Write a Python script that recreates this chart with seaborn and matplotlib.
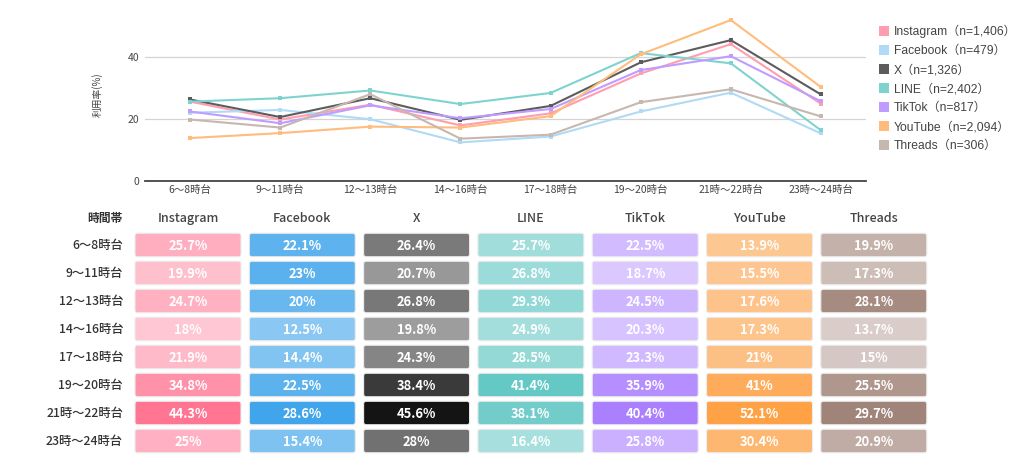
import numpy as np
import pandas as pd
import matplotlib
matplotlib.use("Agg")
import matplotlib.pyplot as plt
import seaborn as sns
from matplotlib.patches import FancyBboxPatch
from matplotlib.lines import Line2D
from matplotlib.colors import to_rgb

# ---------------- data ----------------
time_slots = ["6〜8時台", "9〜11時台", "12〜13時台", "14〜16時台",
              "17〜18時台", "19〜20時台", "21時〜22時台", "23時〜24時台"]
platforms = ["Instagram", "Facebook", "X", "LINE", "TikTok", "YouTube", "Threads"]
sample_sizes = ["1,406", "479", "1,326", "2,402", "817", "2,094", "306"]

instagram = [25.7, 19.9, 24.7, 18.0, 21.9, 34.8, 44.3, 25.0]
facebook = [22.1, 23.0, 20.0, 12.5, 14.4, 22.5, 28.6, 15.4]
x_twitter = [26.4, 20.7, 26.8, 19.8, 24.3, 38.4, 45.6, 28.0]
line_app = [25.7, 26.8, 29.3, 24.9, 28.5, 41.4, 38.1, 16.4]
tiktok = [22.5, 18.7, 24.5, 20.3, 23.3, 35.9, 40.4, 25.8]
youtube = [13.9, 15.5, 17.6, 17.3, 21.0, 41.0, 52.1, 30.4]
threads = [19.9, 17.3, 28.1, 13.7, 15.0, 25.5, 29.7, 20.9]

series = [instagram, facebook, x_twitter, line_app, tiktok, youtube, threads]

# ---------------- styles ----------------
line_colors = ["#ff9db1", "#b0daf5", "#5c5c5c", "#7fd3cf", "#bf9cff", "#ffbc7c", "#c6b7af"]
cell_light = ["#ffc6d3", "#8ac8f3", "#9d9d9d", "#a6dfdd", "#dbc8ff", "#fdc792", "#dacdc9"]
cell_dark = ["#ff7592", "#40a5ea", "#141414", "#64c8c5", "#ab80ff", "#ffa145", "#a08479"]
# lower bound of the colour scale per column (None = column minimum)
cell_vmin = [None, None, None, 24.0, None, None, None]

JP = ["Noto Sans CJK JP", "DejaVu Sans"]
LEG = ["Liberation Sans", "Noto Sans CJK JP", "DejaVu Sans"]

sns.set_theme(style="white")
plt.rcParams["font.family"] = JP

W, H = 1024, 461
fig = plt.figure(figsize=(W / 100, H / 100), dpi=100)

# ---------------- line chart ----------------
ax_l, ax_r, ax_t, ax_b = 145, 866, 8, 181
ax = fig.add_axes([ax_l / W, 1 - ax_b / H, (ax_r - ax_l) / W, (ax_b - ax_t) / H])

rows = []
for p, vals in zip(platforms, series):
    for i, v in enumerate(vals):
        rows.append({"platform": p, "slot": i, "value": v})
df = pd.DataFrame(rows)

sns.lineplot(data=df, x="slot", y="value", hue="platform", hue_order=platforms,
             palette=line_colors, marker="s", markersize=3.3, markeredgewidth=0,
             linewidth=1.5, legend=False, ax=ax)

ax.set_xlim(-0.5, len(time_slots) - 0.5)
ax.set_ylim(0, 56)
ax.set_yticks([0, 20, 40])
ax.set_xticks(range(len(time_slots)))
ax.set_xticklabels(time_slots, fontsize=7.5, color="#444444", family=JP)
ax.tick_params(axis="y", labelsize=7.5, colors="#444444", pad=4, length=0)
ax.tick_params(axis="x", pad=3, length=0)
ax.grid(axis="y", color="#d4d4d4", linewidth=0.9)
ax.grid(axis="x", visible=False)
for s in ["top", "right", "left"]:
    ax.spines[s].set_visible(False)
ax.spines["bottom"].set_color("#444444")
ax.spines["bottom"].set_linewidth(1.3)
ax.set_xlabel("")
ax.set_ylabel("利用率(%)", fontsize=7, color="#444444", labelpad=18, family=JP)

handles = [Line2D([0], [0], marker="s", linestyle="none", markersize=7,
                  markerfacecolor=c, markeredgewidth=0) for c in line_colors]
labels = [f"{p}（n={n}）" for p, n in zip(platforms, sample_sizes)]
leg = fig.legend(handles, labels, loc="upper left",
                 bbox_to_anchor=(872 / W, 1 - 20 / H), frameon=False,
                 prop={"family": LEG, "size": 8.7}, labelspacing=0.58,
                 handletextpad=0.2, handlelength=1.2, borderaxespad=0)
for t in leg.get_texts():
    t.set_color("#444444")

# ---------------- table ----------------
tab = fig.add_axes([0, 0, 1, 1])
tab.set_xlim(0, W)
tab.set_ylim(H, 0)
tab.axis("off")

col_x0 = 188.0
col_pitch = 114.3
row_y0 = 245.0
row_pitch = 28.0
cell_w, cell_h = 106.0, 23.5
head_y = 218.0
label_right = 123.0

tab.text(label_right, head_y, "時間帯", ha="right", va="center", fontsize=8.5,
         color="#333333", fontweight="bold", family=JP)
for j, p in enumerate(platforms):
    tab.text(col_x0 + j * col_pitch, head_y, p, ha="center", va="center",
             fontsize=9, color="#444444", fontweight="medium", family=JP)

for i, slot in enumerate(time_slots):
    cy = row_y0 + i * row_pitch
    tab.text(label_right, cy, slot, ha="right", va="center", fontsize=8.8,
             color="#333333", fontweight="medium", family=JP)
    for j, vals in enumerate(series):
        v = vals[i]
        lo = min(vals) if cell_vmin[j] is None else cell_vmin[j]
        hi = max(vals)
        t = float(np.clip((v - lo) / (hi - lo), 0, 1))
        c0, c1 = np.array(to_rgb(cell_light[j])), np.array(to_rgb(cell_dark[j]))
        col = tuple(c0 + (c1 - c0) * t)
        cx = col_x0 + j * col_pitch
        box = FancyBboxPatch((cx - cell_w / 2, cy - cell_h / 2), cell_w, cell_h,
                             boxstyle="round,pad=0,rounding_size=2.5",
                             facecolor=col, edgecolor="#ececec", linewidth=0.8)
        tab.add_patch(box)
        txt = f"{v:g}%"
        tab.text(cx, cy + 0.5, txt, ha="center", va="center", fontsize=9.3,
                 color="white", fontweight="bold", family=JP)

fig.savefig("out.png", dpi=100)
